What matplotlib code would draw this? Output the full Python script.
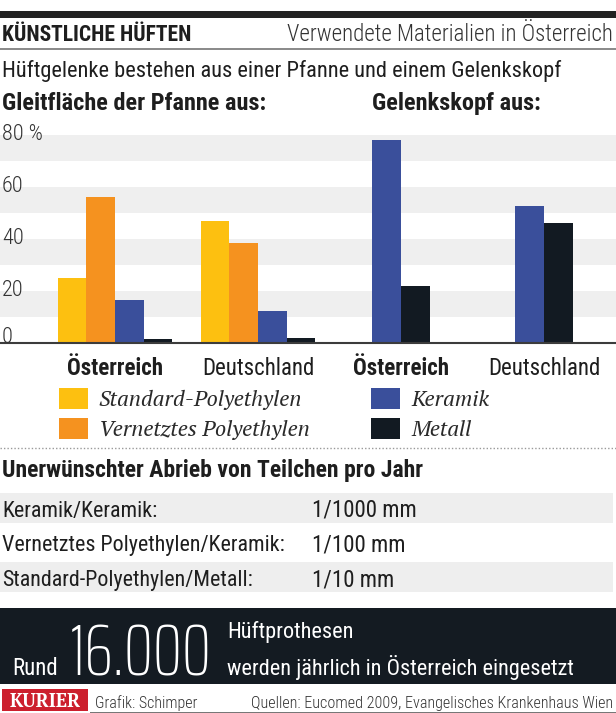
import matplotlib
matplotlib.use("Agg")
import matplotlib.pyplot as plt
from matplotlib.patches import Rectangle
from matplotlib.transforms import blended_transform_factory
import numpy as np

# --- data ---
laender = ["Österreich", "Deutschland"]
pfanne_materialien = ["Standard-Polyethylen", "Vernetztes Polyethylen", "Keramik", "Metall"]
pfanne_werte = [
    [25, 47],     # Standard-Polyethylen
    [56, 38.5],   # Vernetztes Polyethylen
    [16.5, 12.3], # Keramik
    [1.5, 2],     # Metall
]
kopf_materialien = ["Keramik", "Metall"]
kopf_werte = [
    [78, 52.5],   # Keramik
    [22, 46],     # Metall
]
y_ticks = [0, 20, 40, 60, 80]
farben = {"Standard-Polyethylen": "#fdc010", "Vernetztes Polyethylen": "#f5921f",
          "Keramik": "#3a4f9b", "Metall": "#121a22"}

abrieb_paare = ["Keramik/Keramik:", "Vernetztes Polyethylen/Keramik:", "Standard-Polyethylen/Metall:"]
abrieb_werte = ["1/1000 mm", "1/100 mm", "1/10 mm"]

W, H = 616, 713
COND = ["Roboto Condensed", "DejaVu Sans"]
NARROW = ["Saira ExtraCondensed", "Roboto Condensed", "DejaVu Sans"]
SERIF = ["PT Serif", "DejaVu Serif"]
DARK = "#1e1e1e"

fig = plt.figure(figsize=(W / 100, H / 100), dpi=100)


def fx(x):
    return x / W


def fy(y):
    return 1 - y / H


def txt(x, y, s, size, weight="normal", ha="left", color=DARK, family=COND, style="normal"):
    return fig.text(fx(x), fy(y), s, fontsize=size, fontweight=weight, ha=ha, va="baseline",
                    color=color, family=family, style=style)


def box(x0, y0, x1, y1, color, **kw):
    fig.patches.append(Rectangle((fx(x0), fy(y1)), fx(x1 - x0), (y1 - y0) / H,
                                 transform=fig.transFigure, facecolor=color, edgecolor="none", **kw))


# header
box(0, 10.5, W, 17.5, "#222222")
txt(2, 41, "KÜNSTLICHE HÜFTEN", 15.5, weight="bold")
txt(613, 41, "Verwendete Materialien in Österreich", 16.5, weight="light", ha="right", color="#333333")
box(0, 47.5, W, 49.5, "#8c8c8c")
txt(2, 77, "Hüftgelenke bestehen aus einer Pfanne und einem Gelenkskopf", 16.1)
txt(2, 110, "Gleitfläche der Pfanne aus:", 17.5, weight="bold")
txt(372, 110, "Gelenkskopf aus:", 17.5, weight="bold")

# chart
base_px, top_px, px_per_unit = 343, 120, 2.6
group_px = 143.0
ax = fig.add_axes([0, fy(base_px), 1, (base_px - top_px) / H])
ax.set_ylim(0, (base_px - top_px) / px_per_unit)
ax.set_xlim(-115 / group_px, (W - 115) / group_px)
ax.axis("off")
for lo in (10, 30, 50, 70):
    ax.axhspan(lo, lo + 10, color="#efefef", zorder=0, lw=0)
ax.axhline(0, color="#3c3c3c", lw=1.5, zorder=3, clip_on=False)

bw = 0.2
x_links = np.arange(len(laender))
for i, mat in enumerate(pfanne_materialien):
    ax.bar(x_links + (i - 1.5) * bw, pfanne_werte[i], bw, color=farben[mat], zorder=2, lw=0)
x_rechts = np.arange(len(laender)) + 2
for i, mat in enumerate(kopf_materialien):
    ax.bar(x_rechts + (i - 0.5) * bw, kopf_werte[i], bw, color=farben[mat], zorder=2, lw=0)

trans = blended_transform_factory(ax.transAxes, ax.transData)
for v in y_ticks:
    lab = "80 %" if v == 80 else str(v)
    ax.text(2 / W, v, lab, transform=trans, fontsize=16, fontweight="light", family=COND,
            color="#333333", ha="left", va="baseline" if v == 0 else "center")

lab_y = -(375 - base_px) / px_per_unit
for xs in (x_links, x_rechts):
    for j, land in enumerate(laender):
        ax.text(xs[j], lab_y, land, fontsize=16.5, family=COND, ha="center", va="baseline",
                fontweight="bold" if j == 0 else "normal", color=DARK, clip_on=False)

# legend
leg = [(59, 388, pfanne_materialien[0]), (59, 418, pfanne_materialien[1]),
       (371, 388, kopf_materialien[0]), (371, 418, kopf_materialien[1])]
for x0, y0, name in leg:
    box(x0, y0, x0 + 29, y0 + 21, farben[name])
    txt(x0 + 40, y0 + 18, name, 15.8, family=SERIF, style="italic", color="#2a2a2a")

fig.add_artist(plt.Line2D([0, 1], [fy(448), fy(448)], transform=fig.transFigure,
                          color="#999999", lw=1, ls=(0, (1, 1.5))))

# table
txt(2, 477, "Unerwünschter Abrieb von Teilchen pro Jahr", 17, weight="bold")
for k, (paar, wert) in enumerate(zip(abrieb_paare, abrieb_werte)):
    yc = 508 + k * 34.5
    if k % 2 == 0:
        box(0, yc - 15, 613, yc + 15, "#eeeeee")
    txt(2, yc + 9, paar, 15.8)
    txt(312, yc + 9, wert, 16.5)

# bottom box
box(0, 608, W, 684, "#141b22")
txt(12, 675, "Rund", 16.5, color="white")
big = txt(70, 676, "16.000", 80, weight=200, color="white", family=NARROW)
r = fig.canvas.get_renderer()
wpx = big.get_window_extent(r).width
big.set_fontsize(80 * 142 / wpx)
txt(227, 638, "Hüftprothesen", 16, color="white")
txt(227, 675, "werden jährlich in Österreich eingesetzt", 16, color="white")

# footer
box(2, 689, 88, 711, "#cc1f2d")
fig.text(fx(45), fy(707), "KURIER", fontsize=13.5, fontweight="bold", family=SERIF,
         color="white", ha="center", va="baseline")
txt(95, 708, "Grafik: Schimper", 11.5, weight="light", color="#333333")
txt(613, 708, "Quellen: Eucomed 2009, Evangelisches Krankenhaus Wien", 11.6, weight="light",
    ha="right", color="#333333")
box(90, 711.5, W, 712.5, "#777777")

fig.savefig("out.png", dpi=100)
